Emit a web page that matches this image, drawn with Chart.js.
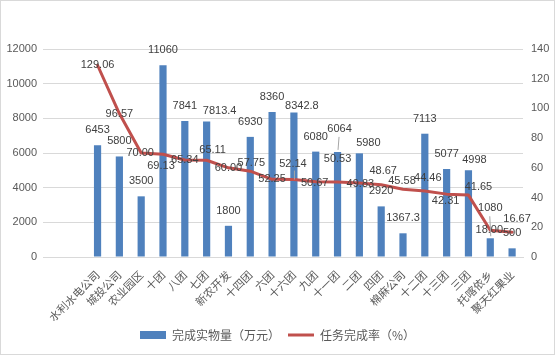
<!DOCTYPE html>
<html><head><meta charset="utf-8">
<script src="https://cdn.jsdelivr.net/npm/chart.js@4/dist/chart.umd.min.js"></script>
<style>html,body{margin:0;padding:0;background:#fff;}#wrap{width:555px;height:355px;position:relative;}</style>
</head><body><div id="wrap"><canvas id="c" width="555" height="355"></canvas></div>
<script>
// ---- data ----
const categories = ['水利水电公司','城投公司','农业园区','十团','八团','七团','新农开发','十四团','六团','十六团','九团','十一团','二团','四团','棉麻公司','十二团','十三团','三团','托喀依乡','聚天红果业'];
const volume = [6453, 5800, 3500, 11060, 7841, 7813.4, 1800, 6930, 8360, 8342.8, 6080, 6064, 5980, 2920, 1367.3, 7113, 5077, 4998, 1080, 500];
const rate = [129.06, 96.57, 70.00, 69.13, 65.34, 65.11, 60.00, 57.75, 52.25, 52.14, 50.67, 50.53, 49.83, 48.67, 45.58, 44.46, 42.31, 41.65, 18.00, 16.67];
const leftTicks = [0, 2000, 4000, 6000, 8000, 10000, 12000];
const rightTicks = [0, 20, 40, 60, 80, 100, 120, 140];
const seriesNames = ['完成实物量（万元）', '任务完成率（%）'];

// ---- label placement (style) ----
const barLabelShift = {5:[13,4], 9:[8,9], 11:[2,-8], 12:[9,5], 17:[6,5], 18:[0,-15]};
const rateLabelShift = {2:[-1,0],3:[-2,12],5:[6,-10],7:[1,-8],9:[-1,-16],10:[-1,1],11:[0,-23],12:[1,1],13:[2,-14],14:[-1,-8],15:[3,-13],16:[-1,7],17:[10,-8],18:[-1,0],19:[5,-13]};
const leaders = {bar:[11,18], rate:[9]};

const LEAD = 2; // two empty category slots at the start
const labels = Array(LEAD).fill('').concat(categories);
const barData = Array(LEAD).fill(null).concat(volume);
const lineData = Array(LEAD).fill(null).concat(rate);

const numFont = '"Liberation Sans", "Noto Sans CJK SC", sans-serif';
const cjkFont = '"Noto Sans CJK SC", "Liberation Sans", sans-serif';

const labelPlugin = {
  id: 'dl',
  afterDatasetsDraw(chart) {
    const ctx = chart.ctx;
    ctx.save();
    ctx.font = '11px ' + numFont;
    ctx.fillStyle = '#404040';
    ctx.textAlign = 'center';
    ctx.textBaseline = 'middle';
    const bm = chart.getDatasetMeta(0), lm = chart.getDatasetMeta(1);
    ctx.strokeStyle = '#a6a6a6'; ctx.lineWidth = 1;
    volume.forEach((v, i) => {
      const el = bm.data[i + LEAD];
      const s = barLabelShift[i] || [0, 0];
      const x = el.x + s[0], y = el.y - 15 + s[1];
      if (leaders.bar.includes(i)) {
        ctx.beginPath(); ctx.moveTo(x - 1 + 0.5, y + 8); ctx.lineTo(el.x + 0.5, el.y - 2); ctx.stroke();
      }
      ctx.fillText(String(v), x, y);
    });
    rate.forEach((v, i) => {
      const el = lm.data[i + LEAD];
      const s = rateLabelShift[i] || [0, 0];
      const x = el.x + s[0], y = el.y + s[1];
      if (leaders.rate.includes(i)) {
        ctx.beginPath(); ctx.moveTo(el.x + 0.5, y + 7); ctx.lineTo(el.x + 0.5, el.y); ctx.stroke();
      }
      ctx.fillText(v.toFixed(2), x, y);
    });
    ctx.restore();
  },
  afterDraw(chart) {
    const ctx = chart.ctx;
    ctx.save();
    ctx.strokeStyle = '#d9d9d9'; ctx.lineWidth = 1;
    ctx.strokeRect(0.5, 0.5, chart.width - 1, chart.height - 1);
    ctx.restore();
  }
};

new Chart(document.getElementById('c'), {
  data: {
    labels: labels,
    datasets: [
      { type: 'bar', label: seriesNames[0], data: barData, yAxisID: 'y', order: 1,
        backgroundColor: '#4F81BD', borderWidth: 0, barPercentage: 0.33, categoryPercentage: 1, pointStyle: 'rect' },
      { type: 'line', label: seriesNames[1], data: lineData, yAxisID: 'y1', order: 0,
        borderColor: '#C0504D', backgroundColor: '#C0504D', borderWidth: 3, tension: 0, pointRadius: 0,
        borderJoinStyle: 'round', borderCapStyle: 'round', pointStyle: 'line' }
    ]
  },
  options: {
    responsive: false, animation: false, devicePixelRatio: 1,
    layout: { padding: { top: 49, left: 0, right: 0, bottom: 4 } },
    plugins: {
      tooltip: { enabled: false },
      legend: {
        position: 'bottom',
        labels: {
          usePointStyle: true, pointStyleWidth: 26, boxHeight: 8, padding: 8,
          color: '#595959', font: { size: 12, family: cjkFont },
          sort: (a, b) => a.datasetIndex - b.datasetIndex
        }
      }
    },
    scales: {
      x: {
        offset: true,
        grid: { display: false },
        border: { color: '#d9d9d9' },
        ticks: { autoSkip: false, minRotation: 45, maxRotation: 45, padding: 3, color: '#595959', font: { size: 11, family: cjkFont } },
        afterFit(s) { s.height = 64; }
      },
      y: {
        position: 'left', min: 0, max: 12000,
        afterBuildTicks(s) { s.ticks = leftTicks.map(v => ({ value: v })); },
        grid: { color: '#d9d9d9', drawTicks: false },
        border: { display: false },
        ticks: { padding: 6, color: '#595959', font: { size: 11, family: numFont }, callback: v => String(v) },
        afterFit(s) { s.width = 43; }
      },
      y1: {
        position: 'right', min: 0, max: 140,
        afterBuildTicks(s) { s.ticks = rightTicks.map(v => ({ value: v })); },
        grid: { display: false, drawTicks: false },
        border: { display: false },
        ticks: { padding: 8, color: '#595959', font: { size: 11, family: numFont }, callback: v => String(v) },
        afterFit(s) { s.width = 32; }
      }
    }
  },
  plugins: [labelPlugin]
});
</script></body></html>
